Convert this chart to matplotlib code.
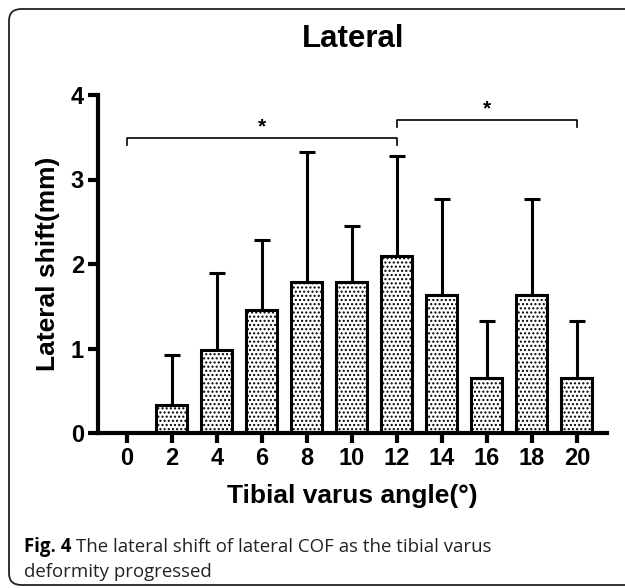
import numpy as np
import matplotlib
matplotlib.use("Agg")
import matplotlib.pyplot as plt
from matplotlib.patches import FancyBboxPatch

plt.rcParams['hatch.linewidth'] = 1.0

# data
angles = ['0', '2', '4', '6', '8', '10', '12', '14', '16', '18', '20']
means = [0.0, 0.33, 0.98, 1.45, 1.79, 1.79, 2.10, 1.63, 0.65, 1.63, 0.65]
sds = [0.0, 0.59, 0.91, 0.83, 1.53, 0.66, 1.18, 1.14, 0.68, 1.14, 0.68]
# significance brackets: (from index, to index, height)
brackets = [(0, 6, 3.49), (6, 10, 3.70)]

W, H = 625, 588
fig = plt.figure(figsize=(W / 100, H / 100), dpi=100)

# rounded frame around the figure panel
frame = FancyBboxPatch((9 / W, 1 - 585 / H), (660 - 9) / W, (585 - 9) / H,
                       boxstyle="round,pad=0,rounding_size=0.02",
                       transform=fig.transFigure, fill=False,
                       edgecolor='#222222', linewidth=1.3)
fig.patches.append(frame)

ax = fig.add_axes([98 / W, 1 - 433 / H, (607 - 98) / W, (433 - 95) / H])

x = np.arange(len(angles))
ax.bar(x, means, width=0.69, color='white', edgecolor='black',
       linewidth=2.2, hatch='....', zorder=2)

m = np.array(sds) > 0
ax.errorbar(x[m], np.array(means)[m],
            yerr=[np.zeros(m.sum()), np.array(sds)[m]],
            fmt='none', ecolor='black', elinewidth=2.2, capsize=6,
            capthick=2.2, zorder=1)

for a, b, h in brackets:
    ax.plot([a, a, b, b], [h - 0.08, h, h, h - 0.08], color='black',
            linewidth=1.2, clip_on=False)
    ax.text((a + b) / 2, h + 0.02, '*', ha='center', va='bottom',
            fontsize=15, fontweight='bold', family='Liberation Sans')

ax.set_xlim(-0.64, 10.67)
ax.set_ylim(0, 4)
ax.set_xticks(x)
ax.set_xticklabels(angles)
ax.set_yticks([0, 1, 2, 3, 4])

for s in ['top', 'right']:
    ax.spines[s].set_visible(False)
for s in ['left', 'bottom']:
    ax.spines[s].set_linewidth(3)
ax.tick_params(width=3, length=7, labelsize=17, pad=3)
for lab in ax.get_xticklabels() + ax.get_yticklabels():
    lab.set_family('Liberation Sans')
    lab.set_fontweight('bold')

ax.set_xlabel('Tibial varus angle(°)', fontsize=19, fontweight='bold',
              family='Liberation Sans', labelpad=10)
ax.set_ylabel('Lateral shift(mm)', fontsize=19, fontweight='bold',
              family='Liberation Sans', labelpad=8)
fig.text(353 / W, 1 - 39 / H, 'Lateral', ha='center', va='center',
         fontsize=22.5, fontweight='bold', family='Liberation Sans')

# caption
r = fig.canvas.get_renderer()
t1 = fig.text(24 / W, 1 - 552 / H, 'Fig. 4', fontsize=13.4, fontweight='bold',
              family='Open Sans', va='baseline')
bb = t1.get_window_extent(renderer=r)
fig.text(bb.x1 / W + 5 / W, 1 - 552 / H,
         'The lateral shift of lateral COF as the tibial varus',
         fontsize=13.4, family='Open Sans', va='baseline', color='#222222')
fig.text(24 / W, 1 - 577 / H, 'deformity progressed', fontsize=13.4,
         family='Open Sans', va='baseline', color='#222222')

fig.savefig('out.png', dpi=100)
